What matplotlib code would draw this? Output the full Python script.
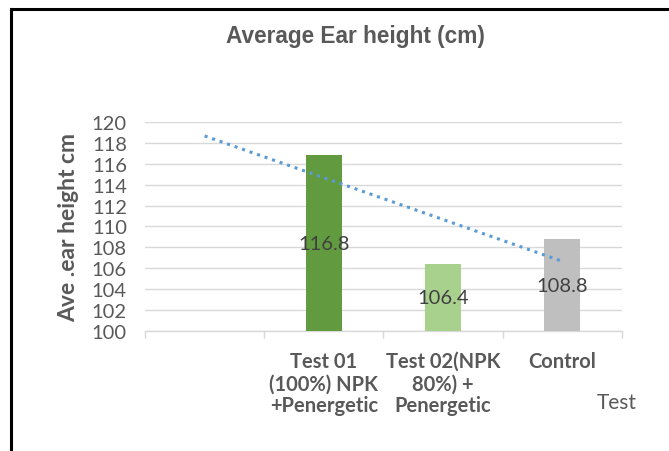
import numpy as np
import matplotlib.pyplot as plt
from matplotlib.lines import Line2D

# chart data
categories = ["", "Test 01\n(100%) NPK\n+Penergetic", "Test 02(NPK\n80%) +\nPenergetic", "Control"]
bar_labels = ["116.8", "106.4", "108.8"]
bar_values = [116.8, 106.4, 108.8]
bar_colors = ["#629B3F", "#A9D18E", "#BFBFBF"]
y_ticks = list(range(100, 121, 2))

plt.rcParams['font.family'] = ['Lato', 'DejaVu Sans']

fig = plt.figure(figsize=(6.69, 4.52), dpi=100)
ax = fig.add_axes([0.2167, 0.2655, 0.713, 0.4624])

x_bars = np.arange(1, len(categories))
base = 100
ax.bar(x_bars, np.array(bar_values) - base, bottom=base, width=0.30,
       color=bar_colors, zorder=3)

# data labels centered in the bars
for x, v, lab in zip(x_bars, bar_values, bar_labels):
    ax.text(x, (base + v) / 2, lab, ha='center', va='center',
            fontsize=14.5, color='#404040', zorder=4)

# linear trendline over the bar series, extended back to the first category
slope, intercept = np.polyfit(x_bars, bar_values, 1)
xt = np.array([0, len(categories) - 1])
ax.plot(xt, slope * xt + intercept, linestyle=(0, (1, 1.6)), color='#5B9BD5',
        linewidth=2.2, zorder=5)

ax.set_xlim(-0.5, len(categories) - 0.5)
ax.set_ylim(100, 120)
ax.set_yticks(y_ticks)
ax.set_yticklabels([str(t) for t in y_ticks], fontsize=14.5, color='#595959')
ax.tick_params(axis='y', length=0, pad=13)
ax.grid(axis='y', color='#D9D9D9', linewidth=1, zorder=0)

ax.set_xticks(np.arange(len(categories)))
ax.set_xticklabels(categories, fontsize=14.5, fontweight='bold', color='#595959',
                   linespacing=1.13, va='top')
ax.set_xticks(np.arange(len(categories) + 1) - 0.5, minor=True)
ax.tick_params(axis='x', which='major', length=0, pad=14.5)
ax.tick_params(axis='x', which='minor', length=5, color='#D9D9D9', width=1)

for s in ['top', 'right', 'left']:
    ax.spines[s].set_visible(False)
ax.spines['bottom'].set_color('#D9D9D9')
ax.spines['bottom'].set_linewidth(1)

ax.set_ylabel("Ave .ear height cm", fontsize=16.5, fontweight='bold', color='#595959')
ax.yaxis.set_label_coords(-0.137, 0.5)

fig.text(0.532, 0.92, "Average Ear height (cm)", ha='center', va='center',
         fontsize=16.3, fontweight='bold', color='#595959', family='Liberation Sans')
fig.text(0.922, 0.108, "Test", ha='center', va='center', fontsize=15, color='#595959')

# frame lines (left and top only)
fig.add_artist(Line2D([11 / 669, 11 / 669], [0, 1 - 10 / 452], color='black',
                      linewidth=2.2, transform=fig.transFigure))
fig.add_artist(Line2D([11 / 669, 1], [1 - 10 / 452, 1 - 10 / 452], color='black',
                      linewidth=2.2, transform=fig.transFigure))

fig.savefig("out.png", dpi=100)
